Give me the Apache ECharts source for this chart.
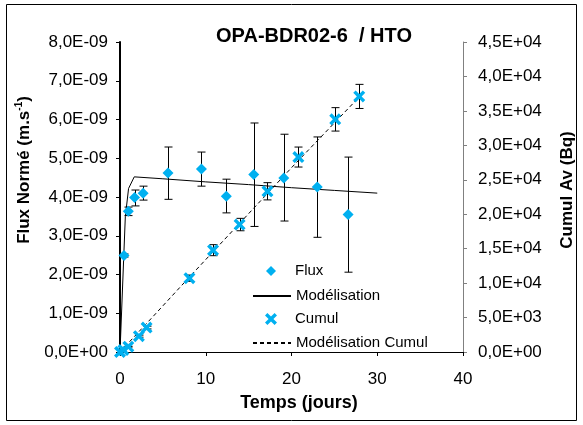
<!DOCTYPE html>
<html><head><meta charset="utf-8">
<script src="https://cdn.jsdelivr.net/npm/echarts@6/dist/echarts.min.js"></script>
<style>html,body{margin:0;padding:0;background:#fff}#c{width:583px;height:425px}</style>
</head><body><div id="c"></div>
<script>
// ---- data ----
const fluxTimes  = [0.47, 0.97, 1.7, 2.7, 5.6, 9.5, 12.4, 15.6, 19.1, 23.0, 26.6];
const fluxValues = [2.49e-9, 3.63e-9, 3.99e-9, 4.10e-9, 4.62e-9, 4.72e-9, 4.02e-9, 4.58e-9, 4.49e-9, 4.26e-9, 3.55e-9];
const fluxHigh   = [2.53e-9, 3.74e-9, 4.18e-9, 4.28e-9, 5.29e-9, 5.16e-9, 4.46e-9, 5.91e-9, 5.62e-9, 5.55e-9, 5.03e-9];
const fluxLow    = [2.45e-9, 3.52e-9, 3.77e-9, 3.92e-9, 3.94e-9, 4.28e-9, 3.59e-9, 3.24e-9, 3.38e-9, 2.96e-9, 2.06e-9];

const modelTimes  = [0, 0.62, 1.0, 1.66, 5, 10, 15, 20, 25, 30];
const modelValues = [0, 3.49e-9, 4.22e-9, 4.52e-9, 4.47e-9, 4.39e-9, 4.32e-9, 4.24e-9, 4.17e-9, 4.10e-9];

const cumulTimes  = [0, 0.4, 0.97, 2.2, 3.1, 8.1, 10.85, 13.95, 17.2, 20.8, 25.1, 27.9];
const cumulValues = [0, 290, 770, 2300, 3550, 10720, 14780, 18500, 23330, 28300, 33770, 37100];
const cumulErr    = [0, 0, 60, 150, 200, 450, 800, 900, 1250, 1450, 1700, 1750];

const cumulModelTimes  = [0, 4, 8, 14, 20, 28];
const cumulModelValues = [0, 5350, 10750, 18750, 26750, 37150];

const xTicks = [0, 10, 20, 30, 40];
const titleText = 'OPA-BDR02-6  / HTO';
const xTitle = 'Temps (jours)';
const yLeftTitle = 'Flux Normé (m.s';
const yRightTitle = 'Cumul Av (Bq)';
const seriesNames = ['Flux', 'Modélisation', 'Cumul', 'Modélisation Cumul'];

// ---- chart ----
const FONT = "'Liberation Sans', Arial, sans-serif";
const BLUE = '#00B0F0';
function sci(v) {
  if (v === 0) return '0,0E+00';
  const s = v.toExponential(1).split('e');
  const n = parseInt(s[1], 10);
  return s[0].replace('.', ',') + 'E' + (n < 0 ? '-' : '+') + String(Math.abs(n)).padStart(2, '0');
}
function zip(a, b) { return a.map((x, i) => [x, b[i]]); }
function errRender(params, api) {
  const x = api.value(0), lo = api.value(1), hi = api.value(2);
  if (hi - lo <= 0) return null;
  const a = api.coord([x, hi]), b = api.coord([x, lo]);
  const w = 4, cx = Math.round(a[0]) + 0.5;
  const st = { stroke: '#000', lineWidth: 1 };
  return { type: 'group', children: [
    { type: 'line', shape: { x1: cx, y1: a[1], x2: cx, y2: b[1] }, style: st },
    { type: 'line', shape: { x1: cx - w, y1: a[1], x2: cx + w, y2: a[1] }, style: st },
    { type: 'line', shape: { x1: cx - w, y1: b[1], x2: cx + w, y2: b[1] }, style: st }
  ]};
}
const X_PATH = 'path://M0,2 L2,0 L5,3 L8,0 L10,2 L7,5 L10,8 L8,10 L5,7 L2,10 L0,8 L3,5 Z';
const DIAMOND_PATH = 'path://M5,0 L10,5 L5,10 L0,5 Z';

function legendFor(item, left, top, itemHeight) {
  return { data: [item], orient: 'vertical', left: left, top: top, itemWidth: 38, itemHeight: itemHeight,
    selectedMode: false, padding: 0, itemGap: 5, symbolKeepAspect: true,
    textStyle: { fontFamily: FONT, fontSize: 15, color: '#000', lineHeight: 16 } };
}

const chart = echarts.init(document.getElementById('c'), null, { renderer: 'canvas' });
chart.setOption({
  animation: false,
  backgroundColor: '#fff',
  textStyle: { fontFamily: FONT },
  grid: { left: 120, right: 120, top: 42, bottom: 73, containLabel: false },
  xAxis: {
    type: 'value', min: xTicks[0], max: xTicks[xTicks.length - 1], interval: 10,
    axisLine: { onZero: false, lineStyle: { color: '#000', width: 1 } },
    axisTick: { show: true, inside: false, length: 4, lineStyle: { color: '#000' } },
    axisLabel: { fontFamily: FONT, fontSize: 17, color: '#000', margin: 19 },
    splitLine: { show: false }
  },
  yAxis: [
    { type: 'value', min: 0, max: 8e-9, interval: 1e-9, position: 'left',
      axisLine: { show: true, onZero: false, lineStyle: { color: '#000', width: 2 } },
      axisTick: { show: true, length: 4, lineStyle: { color: '#000' } },
      axisLabel: { fontFamily: FONT, fontSize: 17, color: '#000', margin: 12, formatter: sci },
      splitLine: { show: false } },
    { type: 'value', min: 0, max: 45000, interval: 5000, position: 'right',
      axisLine: { show: true, onZero: false, lineStyle: { color: '#808080', width: 1 } },
      axisTick: { show: true, length: 4, lineStyle: { color: '#808080' } },
      axisLabel: { fontFamily: FONT, fontSize: 17, color: '#000', margin: 15, formatter: sci },
      splitLine: { show: false } }
  ],
  legend: [
    legendFor({ name: seriesNames[0], icon: DIAMOND_PATH }, 266, 263, 10),
    legendFor({ name: seriesNames[1] }, 252, 288, 16),
    legendFor({ name: seriesNames[2] }, 265, 311, 12),
    legendFor({ name: seriesNames[3] }, 252, 335, 16)
  ],
  series: [
    { name: 'errFlux', type: 'custom', xAxisIndex: 0, yAxisIndex: 0, z: 1,
      renderItem: errRender, encode: { x: 0, y: [1, 2] },
      data: fluxTimes.map((t, i) => [t, fluxLow[i], fluxHigh[i]]) },
    { name: 'errCumul', type: 'custom', xAxisIndex: 0, yAxisIndex: 1, z: 1,
      renderItem: errRender, encode: { x: 0, y: [1, 2] },
      data: cumulTimes.map((t, i) => [t, cumulValues[i] - cumulErr[i], cumulValues[i] + cumulErr[i]]) },
    { name: seriesNames[1], type: 'line', yAxisIndex: 0, symbol: 'none', z: 2,
      lineStyle: { color: '#000', width: 1 }, itemStyle: { color: 'rgba(0,0,0,0)', borderWidth: 0 },
      data: zip(modelTimes, modelValues) },
    { name: seriesNames[3], type: 'line', yAxisIndex: 1, symbol: 'none', z: 2,
      lineStyle: { color: '#000', width: 1, type: [4, 3] }, itemStyle: { color: 'rgba(0,0,0,0)', borderWidth: 0 },
      data: zip(cumulModelTimes, cumulModelValues) },
    { name: seriesNames[0], type: 'scatter', yAxisIndex: 0, symbol: 'diamond', symbolSize: 11, z: 3,
      itemStyle: { color: BLUE, opacity: 1 }, data: zip(fluxTimes, fluxValues) },
    { name: seriesNames[2], type: 'scatter', yAxisIndex: 1, symbol: X_PATH, symbolSize: 12, z: 3,
      itemStyle: { color: BLUE, opacity: 1 }, data: zip(cumulTimes, cumulValues) }
  ],
  graphic: [
    { type: 'rect', shape: { x: 6.5, y: 4.5, width: 570, height: 416 }, style: { fill: null, stroke: '#000', lineWidth: 1 }, z: 100, silent: true },
    { type: 'text', x: 314, y: 36, style: { text: titleText, font: "bold 20px " + FONT, fill: '#000', align: 'center', verticalAlign: 'middle' } },
    { type: 'text', x: 299, y: 403, style: { text: xTitle, font: "bold 18px " + FONT, fill: '#000', align: 'center', verticalAlign: 'middle' } },
    { type: 'text', x: 24, y: 170, rotation: Math.PI / 2,
      style: { text: '{a|' + yLeftTitle + '}{s|-1}{a|)}', align: 'center', verticalAlign: 'middle',
        rich: { a: { fontFamily: FONT, fontWeight: 'bold', fontSize: 17, fill: '#000', lineHeight: 20 },
                s: { fontFamily: FONT, fontWeight: 'bold', fontSize: 10, fill: '#000', verticalAlign: 'top', lineHeight: 20 } } } },
    { type: 'text', x: 567, y: 190, rotation: Math.PI / 2,
      style: { text: yRightTitle, font: "bold 17px " + FONT, fill: '#000', align: 'center', verticalAlign: 'middle' } }
  ]
});
</script></body></html>
